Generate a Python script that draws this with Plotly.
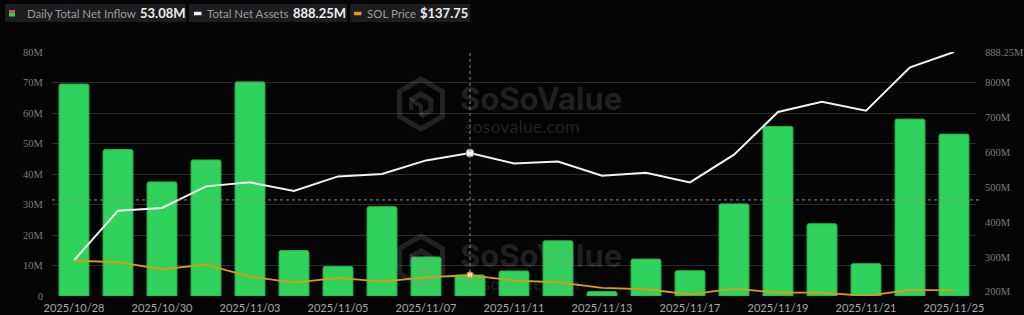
import plotly.graph_objects as go

# ---------------- data ----------------
dates = ["2025/10/28", "2025/10/29", "2025/10/30", "2025/10/31", "2025/11/03",
         "2025/11/04", "2025/11/05", "2025/11/06", "2025/11/07", "2025/11/10",
         "2025/11/11", "2025/11/12", "2025/11/13", "2025/11/14", "2025/11/17",
         "2025/11/18", "2025/11/19", "2025/11/20", "2025/11/21", "2025/11/24",
         "2025/11/25"]
net_inflow_m = [69.5, 48.0, 37.4, 44.6, 70.2, 14.9, 9.7, 29.3, 12.8, 6.9,
                8.2, 18.1, 1.5, 12.1, 8.3, 30.2, 55.6, 23.7, 10.6, 58.0, 53.08]
net_assets_m = [290.0, 432.6, 440.4, 502.4, 513.9, 489.2, 531.0, 538.0, 577.0, 598.0,
                568.4, 574.0, 533.0, 541.7, 513.9, 593.4, 716.0, 745.6, 719.7, 844.0, 888.25]
sol_price = [197.0, 193.8, 179.8, 189.0, 165.0, 153.0, 162.4, 155.0, 163.8, 167.8,
             157.0, 153.8, 142.4, 139.8, 129.8, 141.0, 133.0, 133.0, 126.4, 138.4, 137.75]

left_ticks = [0, 10, 20, 30, 40, 50, 60, 70, 80]
left_labels = ["0", "10M", "20M", "30M", "40M", "50M", "60M", "70M", "80M"]
right_ticks = [200, 300, 400, 500, 600, 700, 800, 888.25]
right_labels = ["200M", "300M", "400M", "500M", "600M", "700M", "800M", "888.25M"]
x_ticks = dates[::2]

legend_labels = ["Daily Total Net Inflow", "Total Net Assets", "SOL Price"]
legend_values = ["53.08M", "888.25M", "$137.75"]
crosshair_date = "2025/11/10"
crosshair_left_value = 31.5

# ---------------- layout geometry ----------------
W, H = 1024, 315
ML, MR, MT, MB = 52, 48, 52, 19
PW, PH = W - ML - MR, H - MT - MB


def px(x):
    return (x - ML) / PW


def py(y):
    return (H - MB - y) / PH


BAR = "#2FD35C"
WHITE = "#F2F2F2"
ORANGE = "#E09A0B"
BG = "#050505"

fig = go.Figure()

fig.add_trace(go.Bar(
    x=dates, y=net_inflow_m, marker=dict(color=BAR, line=dict(color="#27B24D", width=1),
                                         cornerradius=2),
    yaxis="y", hoverinfo="skip"))

fig.add_trace(go.Scatter(
    x=dates, y=sol_price, mode="lines", line=dict(color=ORANGE, width=1.8),
    yaxis="y3", hoverinfo="skip"))

fig.add_trace(go.Scatter(
    x=dates, y=net_assets_m, mode="lines", line=dict(color=WHITE, width=2),
    yaxis="y2", hoverinfo="skip"))

ci = dates.index(crosshair_date)
fig.add_trace(go.Scatter(
    x=[dates[ci]], y=[net_assets_m[ci]], mode="markers",
    marker=dict(color=WHITE, size=8, line=dict(color="#999", width=1)),
    yaxis="y2", hoverinfo="skip"))
fig.add_trace(go.Scatter(
    x=[dates[ci]], y=[sol_price[ci]], mode="markers",
    marker=dict(color="#f4f4f4", size=6, line=dict(color=ORANGE, width=1.5)),
    yaxis="y3", hoverinfo="skip"))

shapes = []
annotations = []

# crosshair
shapes.append(dict(type="line", xref="x", yref="paper", x0=crosshair_date, x1=crosshair_date,
                   y0=0, y1=1, line=dict(color="#8a8a8a", width=1, dash="3px,3px"), layer="above"))
shapes.append(dict(type="line", xref="paper", yref="y", x0=0, x1=1.005,
                   y0=crosshair_left_value, y1=crosshair_left_value,
                   line=dict(color="#8a8a8a", width=1, dash="3px,3px"), layer="above"))

# watermarks
WM = "rgba(150,150,150,0.20)"
for cy in (104, 261):
    hx, r, hw = 421, 25, 21.5
    pts = [(hx, cy - r), (hx + hw, cy - r / 2), (hx + hw, cy + r / 2), (hx, cy + r),
           (hx - hw, cy + r / 2), (hx - hw, cy - r / 2)]
    path = "M " + " L ".join(f"{px(a):.5f},{py(b):.5f}" for a, b in pts) + " Z"
    shapes.append(dict(type="path", xref="paper", yref="paper", path=path,
                       line=dict(color=WM, width=5), layer="above"))
    inner = [(hx - 10, cy - 4), (hx, cy - 10), (hx + 10, cy - 4), (hx + 10, cy + 6),
             (hx, cy + 12)]
    path2 = "M " + " L ".join(f"{px(a):.5f},{py(b):.5f}" for a, b in inner)
    shapes.append(dict(type="path", xref="paper", yref="paper", path=path2,
                       line=dict(color=WM, width=5), layer="above"))
    inner2 = [(hx - 10, cy + 6), (hx - 10, cy - 4), (hx, cy + 2), (hx, cy + 12)]
    path3 = "M " + " L ".join(f"{px(a):.5f},{py(b):.5f}" for a, b in inner2)
    shapes.append(dict(type="path", xref="paper", yref="paper", path=path3,
                       line=dict(color=WM, width=4), layer="above"))
    annotations.append(dict(xref="paper", yref="paper", x=px(458), y=py(cy + 4),
                            xanchor="left", yanchor="middle", showarrow=False, align="left",
                            text="<span style='font-family:Inter;font-size:31px'><b>SoSoValue</b></span>"
                                 "<br><span style='font-size:18px'> sosovalue.com</span>",
                            font=dict(family="Lato", size=18, color=WM)))

# legend boxes
boxes = [(5, 186), (189, 347), (350, 470)]
label_x = [25, 205, 365]
value_x = [138, 291, 418]
for (x0, x1), lab, val, lx, vx in zip(boxes, legend_labels, legend_values, label_x, value_x):
    shapes.append(dict(type="rect", xref="paper", yref="paper", x0=px(x0), x1=px(x1),
                       y0=py(22), y1=py(4), fillcolor="#1d1d1f", line=dict(width=0),
                       layer="below"))
    annotations.append(dict(xref="paper", yref="paper", x=px(lx), y=py(13.5),
                            xanchor="left", yanchor="middle", showarrow=False,
                            text=lab,
                            font=dict(family="Lato", size=11.5, color="#9a9a9a")))
    annotations.append(dict(xref="paper", yref="paper", x=px(vx), y=py(13.5),
                            xanchor="left", yanchor="middle", showarrow=False,
                            text=f"<b>{val}</b>",
                            font=dict(family="Lato", size=13, color="#eeeeee")))
# legend icons
shapes.append(dict(type="rect", xref="paper", yref="paper", x0=px(9), x1=px(15),
                   y0=py(13), y1=py(10), fillcolor="#e5484d", line=dict(width=0), layer="above"))
shapes.append(dict(type="rect", xref="paper", yref="paper", x0=px(9), x1=px(15),
                   y0=py(16.5), y1=py(13), fillcolor="#2FD35C", line=dict(width=0), layer="above"))
shapes.append(dict(type="line", xref="paper", yref="paper", x0=px(194), x1=px(201.5),
                   y0=py(13.5), y1=py(13.5), line=dict(color=WHITE, width=3.5), layer="above"))
shapes.append(dict(type="line", xref="paper", yref="paper", x0=px(354), x1=px(361.5),
                   y0=py(13.5), y1=py(13.5), line=dict(color=ORANGE, width=3.5), layer="above"))

fig.update_layout(
    width=W, height=H,
    margin=dict(l=ML, r=MR, t=MT, b=MB, pad=0, autoexpand=False),
    paper_bgcolor=BG, plot_bgcolor=BG,
    showlegend=False, bargap=0.32, hovermode=False,
    shapes=shapes, annotations=annotations,
    xaxis=dict(type="category", range=[-0.5, len(dates) - 0.5], tickmode="array",
               tickvals=x_ticks, ticktext=x_ticks, showgrid=False, zeroline=False,
               ticks="outside", ticklen=2, tickcolor="rgba(0,0,0,0)", showline=False,
               automargin=False,
               tickfont=dict(family="Lato", size=11, color="#a8a8a8")),
    yaxis=dict(range=[0, 80], tickmode="array", tickvals=left_ticks, ticktext=left_labels,
               showgrid=True, gridcolor="#2a2a2a", gridwidth=1, zeroline=False,
               ticks="outside", ticklen=6, tickcolor="rgba(0,0,0,0)", automargin=False,
               tickfont=dict(family="Liberation Serif", size=10.5, color="#7c7c7c")),
    yaxis2=dict(range=[187.6, 888.25], overlaying="y", side="right", tickmode="array",
                tickvals=right_ticks, ticktext=right_labels, showgrid=False, zeroline=False,
                ticks="outside", ticklen=6, tickcolor="rgba(0,0,0,0)", automargin=False,
                tickfont=dict(family="Liberation Serif", size=10.5, color="#7c7c7c")),
    yaxis3=dict(range=[126.35, 613.75], overlaying="y", visible=False),
)

fig.write_html("out.html")
